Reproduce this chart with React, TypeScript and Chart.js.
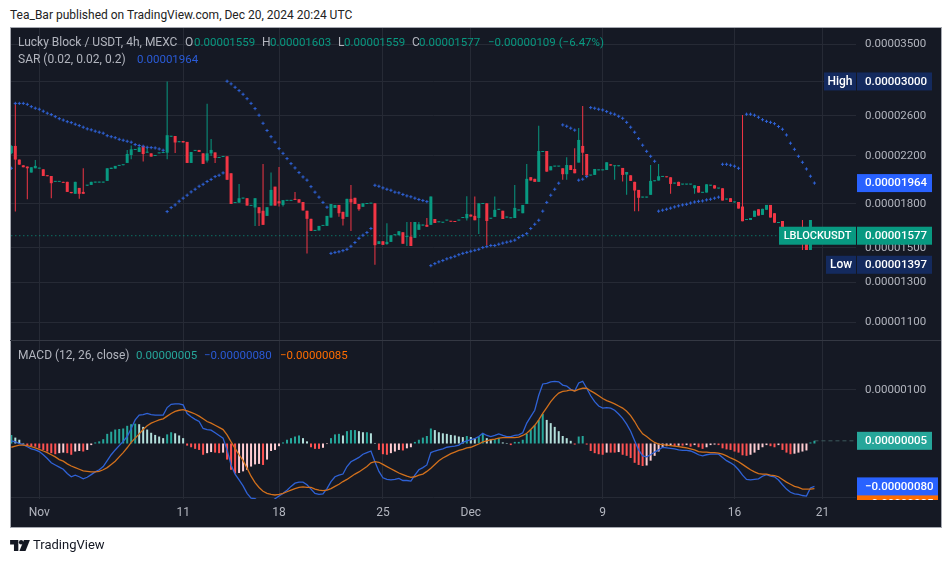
import { useEffect, useRef } from "react";
import { Chart, registerables } from "chart.js";

Chart.register(...registerables);

// prices are in units of 0.00000001, one slot per 4h candle
const opens = [
  2223, 2293, 2166, 2115, 2104, 2052, 2089, 2086, 2080, 2029,
  2023, 1974, 1974, 1974, 1974, 1893, 1878, 1925, 1893, 1943,
  1949, 1968, 1968, 1968, 1982, 2083, 2086, 2110, 2116, 2136,
  2208, 2255, 2236, 2293, 2229, 2223, 2199, 2223, 2226, 2229,
  2383, 2390, 2329, 2341, 2332, 2136, 2246, 2255, 2223, 2157,
  2223, 2232, 2181, 2190, 2196, 2046, 1807, 1810, 1841, 1844,
  1786, 1774, 1776, 1750, 1713, 1788, 1935, 1821, 1793, 1824,
  1824, 1839, 1836, 1815, 1750, 1692, 1609, 1612, 1643, 1643,
  1701, 1771, 1793, 1742, 1706, 1839, 1847, 1800, 1779, 1800,
  1803, 1805, 1523, 1541, 1523, 1537, 1580, 1580, 1600, 1569,
  1571, 1563, 1616, 1645, 1650, 1650, 1691, 1668, 1665, 1680,
  1677, 1675, 1680, 1698, 1696, 1722, 1713, 1698, 1800, 1805,
  1693, 1706, 1757, 1750, 1701, 1696, 1698, 1752, 1732, 1800,
  2013, 1999, 1974, 2236, 2245, 2071, 2104, 2104, 2089, 2038,
  2116, 2083, 2139, 2293, 2217, 2027, 2032, 2071, 2071, 2074,
  2124, 2107, 2107, 2092, 2035, 2029, 1974, 1909, 1849, 1849,
  1870, 1979, 1985, 2015, 2018, 2012, 1960, 1974, 1952, 1952,
  1952, 1922, 1940, 1886, 1888, 1943, 1946, 1920, 1922, 1834,
  1844, 1812, 1815, 1781, 1684, 1684, 1706, 1761, 1720, 1757,
  1793, 1732, 1663, 1677, 1627, 1590, 1590, 1610, 1580, 1530,
  1486,
];
const highs = [
  2300, 2745, 2166, 2115, 2104, 2098, 2163, 2094, 2080, 2029,
  2023, 1980, 1980, 1974, 1974, 1893, 1974, 1925, 2089, 1949,
  1974, 1974, 1974, 1974, 2089, 2094, 2110, 2116, 2121, 2255,
  2297, 2261, 2280, 2293, 2280, 2223, 2205, 2229, 2232, 3000,
  2390, 2390, 2338, 2341, 2332, 2236, 2255, 2255, 2223, 2734,
  2361, 2232, 2187, 2196, 2196, 2046, 1812, 1957, 1847, 1844,
  1790, 1844, 1776, 2127, 1776, 2052, 1935, 2101, 1829, 1829,
  1829, 1893, 1836, 1815, 1750, 1692, 1614, 1643, 1648, 1713,
  1800, 1793, 1793, 1742, 1839, 1949, 1847, 1800, 1805, 1805,
  1807, 1805, 1541, 1541, 1661, 1580, 1585, 1607, 1600, 1670,
  1670, 1670, 1670, 1652, 1698, 1857, 1691, 1672, 1670, 1684,
  1677, 1675, 1684, 1703, 1860, 1722, 1857, 1805, 1805, 1805,
  1698, 1857, 1762, 1750, 1708, 1701, 1949, 1757, 1793, 2127,
  2013, 1999, 2495, 2245, 2245, 2107, 2110, 2110, 2089, 2187,
  2116, 2271, 2471, 2708, 2217, 2032, 2083, 2077, 2077, 2142,
  2124, 2113, 2113, 2092, 2057, 2029, 1974, 1909, 1855, 1855,
  2118, 1985, 2127, 2021, 2018, 2012, 1966, 1974, 1957, 1957,
  1957, 1946, 1940, 1891, 1954, 1949, 1946, 1925, 1922, 1839,
  1844, 1817, 1815, 2608, 1688, 1698, 1750, 1761, 1764, 1793,
  1793, 1732, 1668, 1677, 1627, 1590, 1610, 1610, 1684, 1530,
  1684,
];
const lows = [
  2215, 1745, 2121, 2098, 1836, 2052, 2089, 2086, 2023, 2021,
  1844, 1974, 1974, 1966, 1893, 1883, 1878, 1839, 1878, 1943,
  1949, 1968, 1968, 1968, 1982, 2083, 2086, 2110, 2116, 2136,
  2169, 2255, 2236, 2148, 2229, 2193, 2199, 2223, 2226, 2169,
  2383, 2226, 2329, 2326, 2136, 2136, 2246, 2236, 2127, 2139,
  2199, 2136, 2181, 2190, 1991, 1800, 1807, 1810, 1841, 1788,
  1786, 1643, 1643, 1650, 1713, 1788, 1788, 1781, 1781, 1824,
  1824, 1831, 1810, 1752, 1465, 1609, 1609, 1612, 1643, 1643,
  1701, 1771, 1706, 1645, 1706, 1609, 1800, 1750, 1779, 1800,
  1803, 1397, 1523, 1518, 1518, 1537, 1580, 1580, 1525, 1511,
  1511, 1563, 1616, 1645, 1637, 1650, 1663, 1668, 1665, 1680,
  1672, 1670, 1680, 1698, 1680, 1708, 1682, 1589, 1800, 1516,
  1693, 1706, 1757, 1691, 1701, 1696, 1698, 1752, 1732, 1800,
  1985, 1974, 1974, 2236, 2060, 2071, 2104, 2104, 1991, 1991,
  2074, 2046, 2139, 2032, 2027, 2027, 2032, 2071, 2071, 2074,
  2113, 1991, 2107, 1977, 1870, 1982, 1747, 1747, 1849, 1849,
  1870, 1979, 1985, 2015, 2012, 1878, 1960, 1940, 1952, 1952,
  1952, 1878, 1888, 1886, 1888, 1943, 1920, 1920, 1826, 1834,
  1815, 1812, 1766, 1675, 1684, 1684, 1706, 1715, 1720, 1757,
  1701, 1665, 1663, 1627, 1590, 1575, 1590, 1595, 1486, 1486,
  1486,
];
const closes = [
  2293, 2166, 2121, 2098, 2089, 2098, 2110, 2094, 2023, 2021,
  1963, 1980, 1980, 1966, 1893, 1883, 1974, 1878, 1878, 1949,
  1974, 1974, 1974, 1974, 2089, 2094, 2110, 2116, 2121, 2217,
  2261, 2261, 2280, 2217, 2236, 2193, 2205, 2229, 2232, 2398,
  2390, 2326, 2338, 2326, 2136, 2236, 2255, 2236, 2127, 2223,
  2255, 2181, 2187, 2196, 1991, 1800, 1812, 1844, 1847, 1788,
  1790, 1844, 1732, 1650, 1776, 1909, 1788, 1805, 1829, 1829,
  1829, 1831, 1810, 1752, 1692, 1609, 1614, 1643, 1648, 1713,
  1800, 1793, 1732, 1692, 1839, 1812, 1800, 1761, 1805, 1805,
  1807, 1516, 1541, 1518, 1537, 1580, 1585, 1607, 1525, 1576,
  1511, 1670, 1654, 1652, 1637, 1857, 1663, 1672, 1670, 1684,
  1672, 1670, 1684, 1703, 1727, 1708, 1682, 1805, 1805, 1677,
  1698, 1757, 1762, 1691, 1708, 1701, 1771, 1757, 1793, 1999,
  1985, 1974, 2245, 2245, 2060, 2107, 2110, 2110, 2038, 2118,
  2074, 2046, 2351, 2229, 2027, 2032, 2083, 2077, 2077, 2142,
  2113, 2113, 2113, 2032, 2057, 1982, 1904, 1847, 1855, 1855,
  1982, 1985, 2021, 2021, 2012, 1957, 1966, 1940, 1957, 1957,
  1957, 1946, 1888, 1891, 1954, 1949, 1920, 1925, 1826, 1839,
  1815, 1817, 1766, 1675, 1688, 1698, 1750, 1715, 1764, 1793,
  1701, 1665, 1668, 1627, 1590, 1580, 1610, 1595, 1555, 1486,
  1684,
];
const sar = [
  2089, 2738, 2738, 2738, 2727, 2701, 2683, 2672, 2650, 2628,
  2613, 2591, 2569, 2554, 2537, 2527, 2510, 2496, 2479, 2462,
  2452, 2438, 2428, 2418, 2393, 2383, 2373, 2357, 2348, 2338,
  2329, 2306, 2297, 2290, 2280, 2277, 2274, 2264, 2252, 1744,
  1773, 1793, 1821, 1844, 1867, 1893, 1914, 1938, 1954, 1977,
  1994, 2018, 2029, 2049, 3003, 2970, 2928, 2888, 2844, 2792,
  2738, 2679, 2606, 2520, 2445, 2383, 2329, 2268, 2223, 2175,
  2130, 2092, 2052, 2015, 1988, 1935, 1891, 1852, 1812, 1776,
  1465, 1471, 1475, 1482, 1490, 1509, 1533, 1560, 1580, 1598,
  1625, 1946, 1938, 1925, 1914, 1906, 1891, 1886, 1873, 1862,
  1855, 1844, 1834, 1826, 1818, 1392, 1404, 1414, 1422, 1432,
  1439, 1447, 1457, 1465, 1471, 1478, 1484, 1490, 1501, 1507,
  1514, 1514, 1522, 1529, 1535, 1541, 1548, 1565, 1578, 1591,
  1625, 1654, 1682, 1747, 1812, 1867, 1914, 1963, 2503, 2489,
  2469, 2449, 1988, 1996, 2018, 2690, 2683, 2672, 2664, 2646,
  2628, 2617, 2595, 2573, 2530, 2479, 2428, 2364, 2300, 2242,
  2196, 2151, 1747, 1754, 1761, 1769, 1778, 1786, 1793, 1798,
  1807, 1815, 1820, 1823, 1831, 1836, 1844, 1852, 2124, 2124,
  2116, 2107, 2089, null, 2617, 2617, 2606, 2584, 2558, 2540,
  2530, 2516, 2486, 2458, 2400, 2319, 2261, 2196, 2142, 2083,
  2021, 1964,
];
const macdLine = [
  5, 3, 0, -2, -6, -10, -12, -15, -21, -28,
  -36, -40, -44, -48, -56, -62, -59, -62, -66, -63,
  -58, -53, -49, -43, -32, -21, -12, -4, 4, 13,
  28, 44, 53, 54, 56, 54, 53, 53, 53, 67,
  73, 74, 74, 72, 56, 50, 45, 41, 28, 26,
  25, 20, 15, 10, -12, -40, -57, -68, -79, -93,
  -102, -103, -108, -112, -113, -109, -103, -98, -93, -87,
  -80, -74, -72, -72, -77, -85, -93, -95, -94, -84,
  -71, -62, -59, -57, -43, -34, -30, -26, -20, -17,
  -14, -34, -52, -64, -67, -68, -67, -65, -69, -69,
  -70, -59, -49, -45, -40, -17, -14, -12, -10, -7,
  -6, -5, -3, 2, 5, 7, 9, 13, 19, 15,
  13, 15, 18, 15, 13, 13, 15, 16, 20, 38,
  50, 62, 90, 111, 112, 115, 116, 115, 109, 107,
  101, 98, 113, 116, 103, 89, 78, 70, 66, 67,
  66, 62, 55, 47, 36, 23, 5, -12, -23, -25,
  -21, -16, -12, -7, -8, -9, -10, -12, -13, -13,
  -14, -17, -21, -23, -21, -20, -20, -20, -26, -32,
  -36, -41, -49, -59, -67, -68, -67, -66, -61, -58,
  -61, -62, -68, -77, -85, -91, -94, -95, -97, -98,
  -83, -80,
];
const signalLine = [
  -7, -5, -3, -3, -4, -6, -8, -11, -14, -17,
  -21, -25, -30, -33, -38, -42, -45, -48, -51, -52,
  -53, -53, -52, -49, -45, -39, -33, -25, -17, -8,
  2, 10, 18, 26, 33, 38, 41, 44, 46, 51,
  56, 60, 62, 63, 61, 58, 55, 51, 46, 41,
  38, 34, 30, 26, 16, 3, -9, -21, -32, -46,
  -61, -73, -82, -89, -93, -95, -96, -95, -93, -90,
  -87, -84, -82, -81, -82, -82, -85, -87, -88, -87,
  -84, -80, -76, -71, -67, -62, -57, -53, -48, -43,
  -36, -34, -35, -39, -43, -47, -51, -55, -58, -61,
  -63, -62, -59, -57, -52, -46, -39, -32, -27, -23,
  -19, -16, -13, -11, -8, -7, -4, -1, 3, 5,
  7, 8, 10, 11, 11, 11, 11, 12, 15, 19,
  26, 34, 44, 56, 67, 78, 87, 94, 97, 98,
  100, 98, 101, 103, 103, 98, 94, 89, 84, 80,
  77, 74, 70, 66, 60, 52, 41, 28, 18, 13,
  7, 2, -1, -2, -3, -4, -5, -6, -7, -8,
  -10, -12, -15, -16, -16, -17, -17, -18, -20, -23,
  -27, -30, -34, -39, -44, -49, -53, -56, -57, -57,
  -59, -60, -62, -67, -72, -76, -80, -82, -85, -85,
  -85, -84,
];
const histogram = [
  16, 11, 7, 1, -3, -5, -6, -9, -12, -15,
  -18, -20, -18, -17, -18, -21, -15, -14, -15, -12,
  -3, 2, 4, 8, 18, 22, 26, 27, 28, 33,
  36, 37, 36, 31, 26, 20, 16, 13, 10, 17,
  21, 19, 15, 10, -4, -7, -10, -12, -21, -18,
  -16, -17, -18, -17, -30, -49, -56, -55, -52, -49,
  -43, -39, -38, -40, -30, -14, -12, -5, 2, 7,
  10, 13, 15, 10, 4, -7, -10, -10, -8, -1,
  10, 17, 18, 15, 23, 25, 25, 23, 21, 21,
  19, 1, -12, -20, -21, -18, -15, -12, -13, -9,
  -7, 3, 7, 11, 14, 28, 25, 21, 19, 18,
  16, 15, 13, 12, 14, 12, 10, 13, 19, 10,
  8, 8, 10, 2, 1, -3, 3, 3, 7, 18,
  26, 34, 44, 55, 44, 38, 31, 23, 14, 10,
  5, -2, 13, 14, -2, -14, -18, -20, -21, -17,
  -17, -17, -16, -21, -23, -27, -36, -40, -42, -41,
  -32, -23, -15, -7, -5, -3, -5, -4, -4, -3,
  -6, -3, -7, -10, -7, -3, -2, -3, -9, -11,
  -12, -15, -17, -22, -23, -21, -17, -12, -7, -3,
  -5, -7, -3, -12, -17, -20, -19, -17, -15, -13,
  2, 5,
];

const priceTicks = [3500, 3000, 2600, 2200, 1800, 1500, 1300, 1100];
const macdTicks = [100];
const timeTickSlots = [7, 43, 67, 93, 115, 148, 181, 203];
const timeTickLabels = ["Nov", "11", "18", "25", "Dec", "9", "16", "21"];

const lastClose = 1577;
const lastSar = 1964;
const highPrice = 3000;
const lowPrice = 1397;
const lastHist = 5;
const lastMacd = -80;
const lastSignal = -85;

const GREEN = "#089981";
const RED = "#f23645";
const SAR_BLUE = "#2f62d6";
const FONT = "Roboto, sans-serif";
const BG = "#151924";
const GRID = "#262a35";
const AXIS_TEXT = "#b2b5be";
const LEGEND_BLUE = "#2a5bd7";

const fmt = (v: number) => (v < 0 ? "\u2212" : "") + (Math.abs(v) / 1e8).toFixed(8);

function histColor(v: number, i: number) {
  const prev = i > 0 ? histogram[i - 1] : v;
  if (v >= 0) return v >= prev ? "#26a69a" : "#b2dfdb";
  return v <= prev ? "#ff5252" : "#ffcdd2";
}

// value tags on the right axis, placed from the scales
const tagsPlugin = {
  id: "tags",
  afterDraw(chart: any) {
    const { ctx, scales, chartArea } = chart;
    const left = chartArea.right + 1;
    const tag = (y: number, text: string, bg: string, w = 75, h = 18) => {
      ctx.fillStyle = bg;
      ctx.fillRect(left, y - h / 2, w, h);
      ctx.fillStyle = "#fff";
      ctx.font = "500 11.5px " + FONT;
      ctx.textAlign = "left";
      ctx.textBaseline = "middle";
      ctx.fillText(text, left + 8, y + 0.5);
    };
    const side = (y: number, text: string, bg: string, w: number, size = 12, h = 18) => {
      ctx.fillStyle = bg;
      ctx.fillRect(chartArea.right - w, y - h / 2, w, h);
      ctx.fillStyle = "#fff";
      ctx.font = "500 " + size + "px " + FONT;
      ctx.textAlign = "center";
      ctx.textBaseline = "middle";
      ctx.fillText(text, chartArea.right - w / 2, y + 0.5);
    };
    const price = scales.price;
    const macd = scales.macd;

    // pane separator
    ctx.fillStyle = "#343843";
    ctx.fillRect(chartArea.left - 1, price.bottom, chart.width - chartArea.left - 10, 1);

    const navy = "#142a5e";
    tag(price.getPixelForValue(highPrice), fmt(highPrice), navy);
    side(price.getPixelForValue(highPrice), "High", navy, 32);
    tag(price.getPixelForValue(lastSar), fmt(lastSar), "#2962ff");
    tag(price.getPixelForValue(lowPrice), fmt(lowPrice), navy);
    side(price.getPixelForValue(lowPrice), "Low", navy, 30);
    tag(price.getPixelForValue(lastClose), fmt(lastClose), GREEN);
    side(price.getPixelForValue(lastClose), "LBLOCKUSDT", GREEN, 77, 11);

    tag(macd.getPixelForValue(lastHist), fmt(lastHist), "#26a69a");
    // signal tag is pushed under the macd tag and cut by the pane edge
    ctx.save();
    ctx.beginPath();
    ctx.rect(left, 0, 90, chartArea.bottom + 1);
    ctx.clip();
    tag(macd.getPixelForValue(lastMacd) + 17.5, fmt(lastSignal), "#ff6d00", 81);
    ctx.restore();
    tag(macd.getPixelForValue(lastMacd), fmt(lastMacd), "#2962ff", 81);
  },
};

function TvLogo() {
  return (
    <svg width="20" height="11" viewBox="0 0 36 20" style={{ display: "block" }}>
      <path d="M0 0h15v20H7V8H0z" fill="#131722" />
      <circle cx="20" cy="4" r="4" fill="#131722" />
      <path d="M25 0h11l-8 20H17z" fill="#131722" />
    </svg>
  );
}

function Text({ x, y, color, children, size = 12 }: any) {
  return (
    <span
      style={{
        position: "absolute",
        left: x,
        top: y,
        color,
        fontSize: size,
        lineHeight: "16px",
        whiteSpace: "nowrap",
        fontFamily: FONT,
      }}
    >
      {children}
    </span>
  );
}

export default function App() {
  const canvasRef = useRef<HTMLCanvasElement>(null);

  useEffect(() => {
    if (!canvasRef.current) return;
    const ctx = canvasRef.current.getContext("2d");
    if (!ctx) return;

    const candleColors = closes.map((c, i) => (c >= opens[i] ? GREEN : RED));

    const chart = new Chart(ctx, {
      type: "bar",
      data: {
        datasets: [
          {
            type: "scatter",
            data: sar.map((y, x) => ({ x, y })),
            yAxisID: "price",
            showLine: false,
            pointStyle: "cross",
            pointRadius: 1.6,
            borderColor: SAR_BLUE,
            borderWidth: 1,
            order: 0,
          },
          {
            type: "bar",
            data: opens.map((o, x) => ({ x, y: [o, closes[x]] })),
            yAxisID: "price",
            grouped: false,
            barThickness: 3,
            minBarLength: 1,
            inflateAmount: 0,
            backgroundColor: candleColors,
            order: 1,
          },
          {
            type: "bar",
            data: highs.map((h, x) => ({ x, y: [lows[x], h] })),
            yAxisID: "price",
            grouped: false,
            barThickness: 1,
            inflateAmount: 0,
            backgroundColor: candleColors,
            order: 2,
          },
          {
            type: "line",
            data: [{ x: 0, y: lastClose }, { x: 212, y: lastClose }],
            yAxisID: "price",
            borderColor: GREEN,
            borderWidth: 1,
            borderDash: [1, 3],
            pointRadius: 0,
            order: 3,
          },
          {
            type: "line",
            data: signalLine.map((y, x) => ({ x, y })),
            yAxisID: "macd",
            borderColor: "#d2701c",
            borderWidth: 1.3,
            pointRadius: 0,
            order: 1,
          },
          {
            type: "line",
            data: macdLine.map((y, x) => ({ x, y })),
            yAxisID: "macd",
            borderColor: "#2f62d6",
            borderWidth: 1.3,
            pointRadius: 0,
            order: 2,
          },
          {
            type: "bar",
            data: histogram.map((y, x) => ({ x, y })),
            yAxisID: "macd",
            grouped: false,
            barThickness: 2,
            inflateAmount: 0,
            backgroundColor: histogram.map(histColor),
            order: 3,
          },
          {
            type: "line",
            data: [{ x: 201, y: lastHist }, { x: 212, y: lastHist }],
            yAxisID: "macd",
            borderColor: "#3c5a5c",
            borderWidth: 1,
            borderDash: [4, 3],
            pointRadius: 0,
            order: 4,
          },
        ] as any,
      },
      options: {
        responsive: false,
        animation: false,
        layout: { padding: { left: 11, top: 28, right: 11, bottom: 35 } },
        plugins: { legend: { display: false }, tooltip: { enabled: false } },
        scales: {
          x: {
            type: "linear",
            min: -0.08,
            max: 211.4,
            offset: false,
            border: { display: false },
            grid: { color: GRID, drawTicks: false, offset: false },
            afterBuildTicks: (scale: any) => {
              scale.ticks = timeTickSlots.map((value) => ({ value }));
            },
            afterFit: (scale: any) => {
              scale.height = 29;
            },
            ticks: {
              autoSkip: false,
              maxRotation: 0,
              padding: 7,
              color: AXIS_TEXT,
              font: { family: FONT, size: 12 },
              callback: (value: any) => timeTickLabels[timeTickSlots.indexOf(value)],
            },
          },
          price: {
            type: "logarithmic",
            position: "right",
            stack: "panes",
            stackWeight: 312,
            min: 1021,
            max: 3749,
            border: { display: false },
            grid: { color: GRID, drawTicks: false },
            afterBuildTicks: (scale: any) => {
              scale.ticks = priceTicks.map((value) => ({ value }));
            },
            afterFit: (scale: any) => {
              scale.width = 85;
            },
            ticks: {
              autoSkip: false,
              padding: 9,
              color: AXIS_TEXT,
              font: { family: FONT, size: 11.5 },
              callback: (value: any) => fmt(Number(value)),
            },
          },
          macd: {
            type: "linear",
            position: "right",
            stack: "panes",
            stackWeight: 159,
            min: -103.5,
            max: 193,
            border: { display: false },
            grid: { color: GRID, drawTicks: false },
            afterBuildTicks: (scale: any) => {
              scale.ticks = [100, -100].map((value) => ({ value }));
            },
            afterFit: (scale: any) => {
              scale.width = 85;
            },
            ticks: {
              autoSkip: false,
              padding: 9,
              color: AXIS_TEXT,
              font: { family: FONT, size: 11.5 },
              callback: (value: any) => (macdTicks.includes(Number(value)) ? fmt(Number(value)) : ""),
            },
          },
        },
      } as any,
      plugins: [tagsPlugin],
    });

    return () => chart.destroy();
  }, []);

  return (
    <div style={{ position: "absolute", left: 0, top: 0, width: 952, height: 563, background: "#fff", overflow: "hidden" }}>
      <Text x={10} y={7} color="#222">Tea_Bar published on TradingView.com, Dec 20, 2024 20:24 UTC</Text>
      <div
        style={{
          position: "absolute",
          left: 10,
          top: 27,
          width: 932,
          height: 501,
          boxSizing: "border-box",
          background: BG,
          border: "1px solid #a5a8b0",
        }}
      />
      <canvas ref={canvasRef} width={952} height={563} style={{ position: "absolute", left: 0, top: 0 }} />
      <Text x={18} y={34} color={AXIS_TEXT}>Lucky Block / USDT, 4h, MEXC</Text>
      <Text x={185} y={34} color={AXIS_TEXT}>O</Text>
      <Text x={194} y={34} color={GREEN} size={11.5}>0.00001559</Text>
      <Text x={262} y={34} color={AXIS_TEXT}>H</Text>
      <Text x={270} y={34} color={GREEN} size={11.5}>0.00001603</Text>
      <Text x={338} y={34} color={AXIS_TEXT}>L</Text>
      <Text x={344} y={34} color={GREEN} size={11.5}>0.00001559</Text>
      <Text x={412} y={34} color={AXIS_TEXT}>C</Text>
      <Text x={419} y={34} color={GREEN} size={11.5}>0.00001577</Text>
      <Text x={488} y={34} color={GREEN} size={11.5}>−0.00000109 (−6.47%)</Text>
      <Text x={18} y={51} color={AXIS_TEXT}>SAR (0.02, 0.02, 0.2)</Text>
      <Text x={137} y={51} color={LEGEND_BLUE} size={11.5}>0.00001964</Text>
      <Text x={18} y={347} color={AXIS_TEXT}>MACD (12, 26, close)</Text>
      <Text x={136} y={347} color="#26a69a" size={11.5}>0.00000005</Text>
      <Text x={204} y={347} color={LEGEND_BLUE} size={11.5}>−0.00000080</Text>
      <Text x={280} y={347} color="#ff6d00" size={11.5}>−0.00000085</Text>
      <div style={{ position: "absolute", left: 10, top: 540 }}>
        <TvLogo />
      </div>
      <Text x={33} y={537} color="#131722" size={13}>TradingView</Text>
    </div>
  );
}
